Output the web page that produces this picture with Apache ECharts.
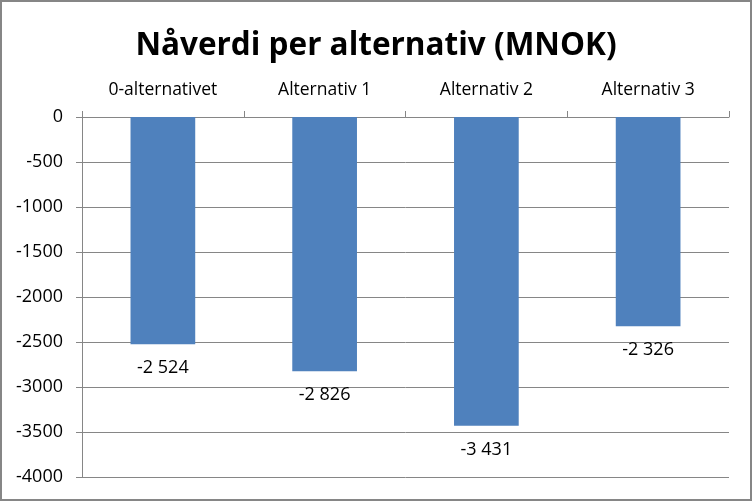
<!DOCTYPE html>
<html><head><meta charset="utf-8">
<script src="https://cdn.jsdelivr.net/npm/echarts@6/dist/echarts.min.js"></script>
<style>html,body{margin:0;padding:0;background:#fff}#c{width:752px;height:501px}</style>
</head><body><div id="c"></div>
<script>
const categories = ['0-alternativet', 'Alternativ 1', 'Alternativ 2', 'Alternativ 3'];
const values = [-2524, -2826, -3431, -2326];
const yMin = -4000, yMax = 0, yStep = 500;
const titleText = 'Nåverdi per alternativ (MNOK)';

const FONT = "'Open Sans', sans-serif";
const chart = echarts.init(document.getElementById('c'), null, {renderer: 'canvas'});
chart.setOption({
  animation: false,
  backgroundColor: '#fff',
  title: {
    text: titleText, left: 'center', top: 25,
    textStyle: {fontFamily: FONT, fontWeight: 'bold', fontSize: 31.5, color: '#000'}
  },
  graphic: [{type: 'rect', shape: {x: 1, y: 1, width: 750, height: 499},
    style: {fill: 'none', stroke: '#868686', lineWidth: 2}, silent: true}],
  grid: {left: 82, right: 23, top: 117, bottom: 24},
  xAxis: {
    type: 'category', data: categories, position: 'top',
    axisLine: {show: true, lineStyle: {color: '#868686'}},
    axisTick: {show: true, inside: false, length: 6, lineStyle: {color: '#868686'}},
    axisLabel: {fontFamily: FONT, fontSize: 17.5, color: '#000', margin: 18}
  },
  yAxis: {
    type: 'value', min: yMin, max: yMax, interval: yStep,
    axisLine: {show: true, lineStyle: {color: '#868686'}},
    axisTick: {show: true, length: 6, lineStyle: {color: '#868686'}},
    splitLine: {show: true, lineStyle: {color: '#868686'}},
    axisLabel: {fontFamily: FONT, fontSize: 18, color: '#000', margin: 19,
      formatter: v => String(v)}
  },
  series: [{
    type: 'bar', data: values, barWidth: '40%',
    itemStyle: {color: '#4F81BD'},
    label: {show: true, position: 'bottom', distance: 15,
      fontFamily: FONT, fontSize: 18, color: '#000',
      formatter: p => {
        const v = p.value; const s = Math.abs(v).toString();
        const parts = s.replace(/\B(?=(\d{3})+(?!\d))/g, ' ');
        return (v < 0 ? '-' : '') + parts;
      }}
  }]
});
</script></body></html>
